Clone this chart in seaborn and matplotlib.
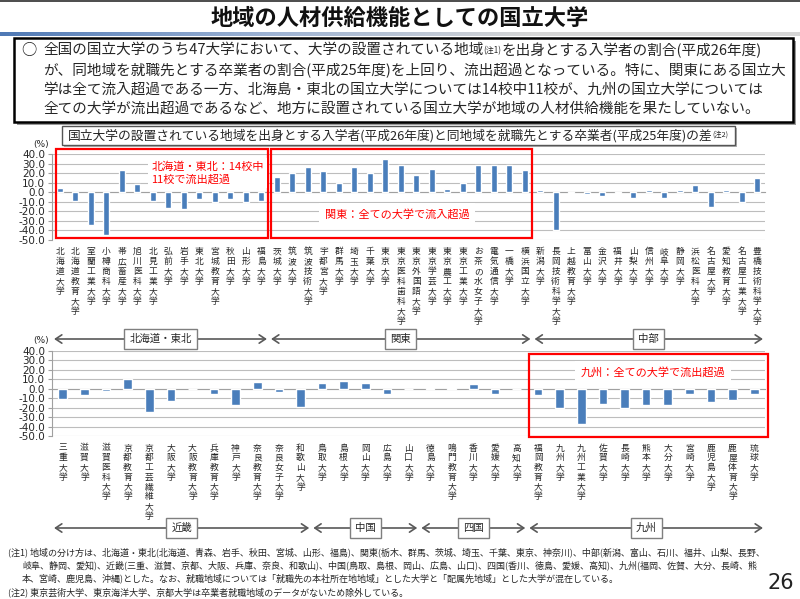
import numpy as np
import pandas as pd
import matplotlib
matplotlib.use('Agg')
import matplotlib.pyplot as plt
import seaborn as sns
from matplotlib.patches import Rectangle
from matplotlib.transforms import blended_transform_factory
from matplotlib.colors import LinearSegmentedColormap

sns.set_style('white')
plt.rcParams['font.family'] = ['Noto Sans CJK JP', 'DejaVu Sans']

# ---------------- data ----------------
top_univs = ['北海道大学', '北海道教育大学', '室蘭工業大学', '小樽商科大学', '帯広畜産大学', '旭川医科大学',
             '北見工業大学', '弘前大学', '岩手大学', '東北大学', '宮城教育大学', '秋田大学', '山形大学', '福島大学',
             '茨城大学', '筑波大学', '筑波技術大学', '宇都宮大学', '群馬大学', '埼玉大学', '千葉大学', '東京大学',
             '東京医科歯科大学', '東京外国語大学', '東京学芸大学', '東京農工大学', '東京工業大学', 'お茶の水女子大学',
             '電気通信大学', '一橋大学', '横浜国立大学',
             '新潟大学', '長岡技術科学大学', '上越教育大学', '富山大学', '金沢大学', '福井大学', '山梨大学', '信州大学',
             '岐阜大学', '静岡大学', '浜松医科大学', '名古屋大学', '愛知教育大学', '名古屋工業大学', '豊橋技術科学大学']
top_diff = [5, -9, -34.5, -44.5, 24, 9, -9, -16.5, -17.5, -6.5, -10, -6.5, -10, -9,
            16, 20, 27, 22, 10, 27, 20, 35, 29, 18, 25, 4, 10, 29, 29, 29, 24,
            2, -40, -0.5, -2, -4, -1, -6, 3, -6, 3, 8, -15, 2, -10, 15]
top_regions = ['北海道・東北', '関東', '中部']
top_counts = [14, 17, 15]

bottom_univs = ['三重大学', '滋賀大学', '滋賀医科大学', '京都教育大学', '京都工芸繊維大学', '大阪大学', '大阪教育大学',
                '兵庫教育大学', '神戸大学', '奈良教育大学', '奈良女子大学', '和歌山大学',
                '鳥取大学', '島根大学', '岡山大学', '広島大学', '山口大学',
                '徳島大学', '鳴門教育大学', '香川大学', '愛媛大学', '高知大学',
                '福岡教育大学', '九州大学', '九州工業大学', '佐賀大学', '長崎大学', '熊本大学', '大分大学', '宮崎大学',
                '鹿児島大学', '鹿屋体育大学', '琉球大学']
bottom_diff = [-11, -7, -2, 10, -24, -13, -0.5, -5, -17, 7, -3, -19,
               6, 8, 6, -5, -0.5,
               0.5, 0.5, 5.5, -5.5, 0,
               -6, -20, -36.5, -16, -20, -17, -17, -5, -14, -12, -5]
bottom_regions = ['近畿', '中国', '四国', '九州']
bottom_counts = [12, 5, 5, 11]

yticks = [40, 30, 20, 10, 0, -10, -20, -30, -40, -50]

title = '地域の人材供給機能としての国立大学'
body_lines = [
    ('全国の国立大学のうち47大学において、大学の設置されている地域', '(注1)', 'を出身とする入学者の割合(平成26年度)'),
    ('が、同地域を就職先とする卒業者の割合(平成25年度)を上回り、流出超過となっている。特に、関東にある国立大',),
    ('学は全て流入超過である一方、北海島・東北の国立大学については14校中11校が、九州の国立大学については',),
    ('全ての大学が流出超過であるなど、地方に設置されている国立大学が地域の人材供給機能を果たしていない。',),
]
chart_title = '国立大学の設置されている地域を出身とする入学者(平成26年度)と同地域を就職先とする卒業者(平成25年度)の差'
notes = [
    '(注1) 地域の分け方は、北海道・東北(北海道、青森、岩手、秋田、宮城、山形、福島)、関東(栃木、群馬、茨城、埼玉、千葉、東京、神奈川)、中部(新潟、富山、石川、福井、山梨、長野、',
    '岐阜、静岡、愛知)、近畿(三重、滋賀、京都、大阪、兵庫、奈良、和歌山)、中国(鳥取、島根、岡山、広島、山口)、四国(香川、徳島、愛媛、高知)、九州(福岡、佐賀、大分、長崎、熊',
    '本、宮崎、鹿児島、沖縄)とした。なお、就職地域については「就職先の本社所在地地域」とした大学と「配属先地域」とした大学が混在している。',
    '(注2) 東京芸術大学、東京海洋大学、京都大学は卒業者就職地域のデータがないため除外している。',
]

# ---------------- layout ----------------
W, H = 800, 599
BAR = '#4a7ebb'
RED = '#ff0000'
fig = plt.figure(figsize=(W / 100, H / 100), dpi=100)
fig.patch.set_facecolor('white')
renderer = fig.canvas.get_renderer()


def px_rect(x0, y0, x1, y1):
    return [x0 / W, 1 - y1 / H, (x1 - x0) / W, (y1 - y0) / H]


def fx(x):
    return x / W


def fy(y):
    return 1 - y / H


# top dark line and gradient rule under title
fig.add_artist(Rectangle((0, fy(2)), 1, 2 / H, transform=fig.transFigure, color='#505050', lw=0))
gax = fig.add_axes(px_rect(0, 32, 800, 36))
cmap = LinearSegmentedColormap.from_list('g', ['#4f79b5', '#9db3d4', '#d6d6d6', '#d6d6d6'])
gax.imshow(np.linspace(0, 1, 256)[None, :], aspect='auto', cmap=cmap)
gax.axis('off')

fig.text(0.5, fy(18), title, ha='center', va='center', fontsize=16, fontweight='bold', color='#111111')

# body text box
fig.add_artist(Rectangle((fx(17), fy(125)), (793 - 14) / W, (122 - 38) / H, transform=fig.transFigure,
                         fc='#9a9a9a', ec='none'))
fig.add_artist(Rectangle((fx(14), fy(122)), (793 - 14) / W, (122 - 38) / H, transform=fig.transFigure,
                         fc='white', ec='black', lw=1.8))
fig.text(fx(21), fy(50), '○', ha='left', va='center', fontsize=11)
line_ys = [50, 70, 90, 109]
for y, parts in zip(line_ys, body_lines):
    x = 43
    for k, part in enumerate(parts):
        if len(parts) == 3 and k == 1:
            t = fig.text(fx(x), fy(y + 5), part, ha='left', va='bottom', fontsize=5.8)
        else:
            t = fig.text(fx(x), fy(y), part, ha='left', va='center', fontsize=10.5)
        bb = t.get_window_extent(renderer)
        x = bb.x1

# chart title box
fig.add_artist(Rectangle((fx(64), fy(147)), (735 - 62) / W, (145 - 126) / H, transform=fig.transFigure,
                         fc='#b0b0b0', ec='none'))
fig.add_artist(Rectangle((fx(62), fy(145)), (735 - 62) / W, (145 - 126) / H, transform=fig.transFigure,
                         fc='white', ec='#555555', lw=1))
t = fig.text(fx(68), fy(135.5), chart_title, ha='left', va='center', fontsize=9.2)
bb = t.get_window_extent(renderer)
fig.text(bb.x1 / W, fy(139), '(注2)', ha='left', va='bottom', fontsize=5.2)


def draw_panel(rect, names, values, regions, counts, label_y0, label_step, arrow_y, pct_y):
    ax = fig.add_axes(rect)
    df = pd.DataFrame({'大学': names, '差': values})
    sns.barplot(data=df, x='大学', y='差', color=BAR, saturation=1, width=0.4, ax=ax, zorder=3)
    n = len(names)
    ax.set_xlim(-0.5, n - 0.5)
    ax.set_ylim(-50, 40)
    ax.set_yticks(yticks)
    ax.set_yticklabels([f'{v:.1f}' for v in yticks], fontsize=7.5, family='DejaVu Sans', color='#262626')
    ax.set_xticks([])
    ax.set_xticks(np.arange(n + 1) - 0.5, minor=True)
    ax.tick_params(axis='x', which='minor', length=3, color='#a0a0a0', width=0.8, labelbottom=False)
    ax.tick_params(axis='y', length=3, color='#a0a0a0', width=0.8, pad=2, left=True)
    ax.set_xlabel('')
    ax.set_ylabel('')
    ax.grid(axis='y', color='#bdbdbd', lw=0.8)
    ax.set_axisbelow(True)
    for s in ['top', 'right']:
        ax.spines[s].set_visible(False)
    ax.spines['left'].set_color('#a0a0a0')
    ax.spines['bottom'].set_position(('data', 0))
    ax.spines['bottom'].set_color('#a0a0a0')
    ax.patch.set_alpha(0)

    fig.text(fx(41), fy(pct_y), '(%)', ha='center', va='center', fontsize=6.5, family='DejaVu Sans')

    tr = blended_transform_factory(ax.transData, fig.transFigure)
    for i, name in enumerate(names):
        for j, ch in enumerate(name):
            ax.text(i, fy(label_y0 + j * label_step), ch, transform=tr, ha='center', va='center',
                    fontsize=6.3, color='#262626', clip_on=False)

    bounds = np.concatenate([[0], np.cumsum(counts)]) - 0.5
    ay = fy(arrow_y)
    for k, reg in enumerate(regions):
        a, b = bounds[k], bounds[k + 1]
        ax.annotate('', xy=(b, ay), xytext=(a, ay), xycoords=tr, textcoords=tr, annotation_clip=False,
                    arrowprops=dict(arrowstyle='<->,head_length=0.45,head_width=0.3', color='#595959',
                                    lw=1.2, shrinkA=1.5, shrinkB=1.5))
        ax.text((a + b) / 2, ay, reg, transform=tr, ha='center', va='center', fontsize=7.5, zorder=6,
                bbox=dict(boxstyle='square,pad=0.5', fc='white', ec='#7f7f7f', lw=1))
    return ax


ax1 = draw_panel(px_rect(52, 154.3, 765, 240), top_univs, top_diff, top_regions, top_counts,
                 251.7, 10.0, 339, 144)
ax2 = draw_panel(px_rect(52, 350.7, 765, 436.4), bottom_univs, bottom_diff, bottom_regions, bottom_counts,
                 448, 9.8, 528, 341)

# red highlight boxes and captions
for ax, (x0, x1, y0, y1) in [(ax1, (-0.27, 13.45, -47.9, 45.6)), (ax1, (13.6, 30.45, -47.9, 45.6)),
                             (ax2, (21.58, 32.65, -50.8, 36.5))]:
    ax.add_patch(Rectangle((x0, y0), x1 - x0, y1 - y0, fill=False, ec=RED, lw=1.6, clip_on=False, zorder=5))

ax1.text(5.9, 20.4, '北海道・東北：14校中\n11校で流出超過', ha='left', va='center', fontsize=8, color=RED,
         linespacing=1.25, zorder=6, bbox=dict(boxstyle='square,pad=0.3', fc='white', ec='none'))
ax1.text(21.76, -22.8, '関東：全ての大学で流入超過', ha='center', va='center', fontsize=8, color=RED,
         zorder=6, bbox=dict(boxstyle='square,pad=0.5', fc='white', ec='none'))
ax2.text(27.3, 17.5, '九州：全ての大学で流出超過', ha='center', va='center', fontsize=8, color=RED,
         zorder=6, bbox=dict(boxstyle='square,pad=0.5', fc='white', ec='none'))

# notes
note_pos = [(8, 552), (22, 565), (22, 578), (8, 592)]
for (x, y), s in zip(note_pos, notes):
    fig.text(fx(x), fy(y), s, ha='left', va='center', fontsize=6.5, color='#262626')
fig.text(fx(781), fy(583), '26', ha='center', va='center', fontsize=15,
         family=['Liberation Sans Narrow', 'DejaVu Sans'], color='#222222')

fig.savefig('out.png', dpi=100)
